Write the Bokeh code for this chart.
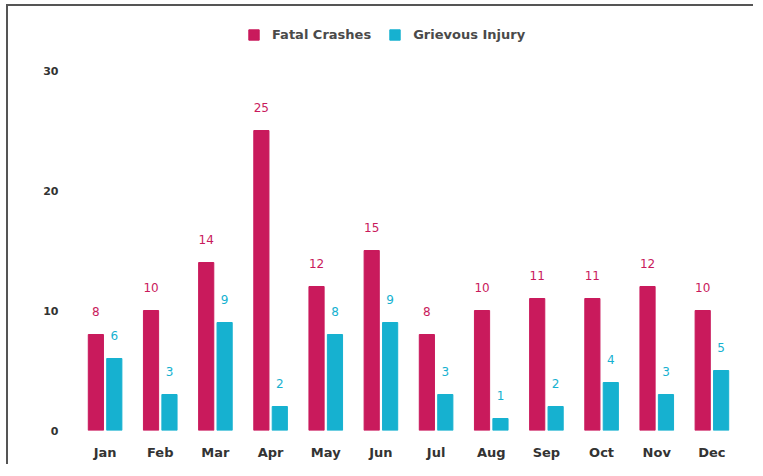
from bokeh.plotting import figure
from bokeh.models import ColumnDataSource, FactorRange, Range1d, FixedTicker, Legend, LegendItem
from bokeh.transform import dodge
from bokeh.core.properties import value
from bokeh.embed import file_html
from bokeh.resources import INLINE

months = ["Jan", "Feb", "Mar", "Apr", "May", "Jun", "Jul", "Aug", "Sep", "Oct", "Nov", "Dec"]
fatal_crashes = [8, 10, 14, 25, 12, 15, 8, 10, 11, 11, 12, 10]
grievous_injury = [6, 3, 9, 2, 8, 9, 3, 1, 2, 4, 3, 5]
y_ticks = [0, 10, 20, 30]

FATAL_COLOR = "#C91A5C"
INJURY_COLOR = "#16B1D0"
FONT = "DejaVu Sans"

src = ColumnDataSource(dict(
    month=months,
    fatal=fatal_crashes,
    injury=grievous_injury,
    fatal_txt=[str(v) for v in fatal_crashes],
    injury_txt=[str(v) for v in grievous_injury],
))

p = figure(
    x_range=FactorRange(*months, range_padding=0),
    y_range=Range1d(0, 34.67),
    width=747, height=460,
    output_backend="svg", toolbar_location=None,
    min_border_left=69, min_border_right=16, min_border_top=8, min_border_bottom=36,
)
p.styles = {"border-left": "2px solid #555", "border-top": "2px solid #555",
            "margin-left": "6px", "margin-top": "4px"}
p.outline_line_color = None
p.xgrid.grid_line_color = None
p.ygrid.grid_line_color = None
p.background_fill_color = "white"
p.border_fill_color = "white"

r1 = p.vbar(x=dodge("month", -0.167, range=p.x_range), top="fatal", width=0.275,
            source=src, color=FATAL_COLOR)
r2 = p.vbar(x=dodge("month", 0.167, range=p.x_range), top="injury", width=0.275,
            source=src, color=INJURY_COLOR)

p.text(x=dodge("month", -0.167, range=p.x_range), y="fatal", text="fatal_txt", source=src,
       text_align="center", text_baseline="middle", y_offset=-23,
       text_font=value(FONT), text_font_size="12px", text_color=FATAL_COLOR)
p.text(x=dodge("month", 0.167, range=p.x_range), y="injury", text="injury_txt", source=src,
       text_align="center", text_baseline="middle", y_offset=-23,
       text_font=value(FONT), text_font_size="12px", text_color=INJURY_COLOR)

for ax in (p.xaxis[0], p.yaxis[0]):
    ax.axis_line_color = None
    ax.major_tick_line_color = None
    ax.minor_tick_line_color = None
    ax.major_label_text_font = FONT
    ax.major_label_text_font_style = "bold"
    ax.major_label_text_color = "#333333"

p.xaxis.major_label_text_font_size = "13px"
p.xaxis.major_label_standoff = 8
p.yaxis.major_label_text_font_size = "11px"
p.yaxis.major_label_standoff = 13
p.yaxis.ticker = FixedTicker(ticks=y_ticks)

legend = Legend(items=[LegendItem(label="Fatal Crashes", renderers=[r1]),
                       LegendItem(label="Grievous Injury", renderers=[r2])],
                orientation="horizontal", location=(170, 388),
                glyph_width=13, glyph_height=13, label_standoff=12, spacing=17,
                padding=4, margin=0, border_line_color=None, background_fill_alpha=0,
                label_text_font=FONT, label_text_font_size="13px",
                label_text_font_style="bold", label_text_color="#4a4a4a")
p.add_layout(legend, "center")

open("out.html", "w").write(file_html(p, INLINE))
